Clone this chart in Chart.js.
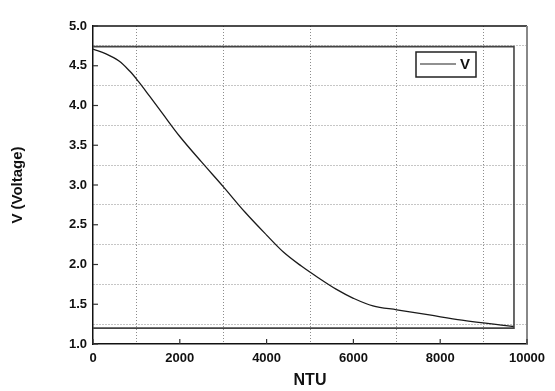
<!DOCTYPE html>
<html>
<head>
<meta charset="utf-8">
<script src="https://cdn.jsdelivr.net/npm/chart.js@4.4.1/dist/chart.umd.min.js"></script>
<style>
  html, body { margin: 0; padding: 0; background: #fff; }
  #wrap { width: 555px; height: 391px; }
</style>
</head>
<body>
<div id="wrap"><canvas id="chart"></canvas></div>
<script>
// Curve values
var ntu     = [0, 300, 600, 850, 1050, 1300, 1600, 2000, 2500, 3000, 3500, 4000, 4400, 4800, 5200, 5600, 6000, 6450, 7000, 7750, 8500, 9690];
var voltage = [4.71, 4.65, 4.56, 4.43, 4.30, 4.12, 3.90, 3.61, 3.29, 2.98, 2.66, 2.37, 2.15, 1.98, 1.83, 1.69, 1.575, 1.48, 1.43, 1.365, 1.30, 1.22];

// The open rectangle drawn round the curve
var frameX = [0, 9700, 9700, 0];
var frameY = [4.74, 4.74, 1.2, 1.2];

var FONT = "'Liberation Sans', Arial, sans-serif";

function toPoints(xs, ys) {
    return xs.map(function (x, i) { return { x: x, y: ys[i] }; });
}

// Draws top/right borders, inward tick marks and the boxed legend
var extras = {
    id: 'extras',
    afterDraw: function (chart) {
        var ctx = chart.ctx;
        var a = chart.chartArea;
        var xs = chart.scales.x, ys = chart.scales.y;
        ctx.save();

        // top and right border
        ctx.lineWidth = 1.5;
        ctx.strokeStyle = '#111';
        ctx.beginPath();
        ctx.moveTo(a.left, a.top);
        ctx.lineTo(a.right, a.top);
        ctx.stroke();
        ctx.lineWidth = 2;
        ctx.strokeStyle = '#888';
        ctx.beginPath();
        ctx.moveTo(a.right, a.top);
        ctx.lineTo(a.right, a.bottom);
        ctx.stroke();

        // inward major ticks
        ctx.lineWidth = 1.2;
        ctx.strokeStyle = '#333';
        xs.ticks.forEach(function (t) {
            if (t.value % 2000 !== 0) return;
            var px = xs.getPixelForValue(t.value);
            ctx.beginPath();
            ctx.moveTo(px, a.bottom);
            ctx.lineTo(px, a.bottom - 5);
            ctx.stroke();
        });
        ys.ticks.forEach(function (t) {
            if (Math.abs(t.value * 2 - Math.round(t.value * 2)) > 1e-6) return;
            var py = ys.getPixelForValue(t.value);
            ctx.beginPath();
            ctx.moveTo(a.left, py);
            ctx.lineTo(a.left + 5, py);
            ctx.stroke();
        });

        // legend box
        var bx = a.right - 111, by = a.top + 26, bw = 60, bh = 25;
        ctx.fillStyle = '#fff';
        ctx.fillRect(bx, by, bw, bh);
        ctx.lineWidth = 1.5;
        ctx.strokeStyle = '#222';
        ctx.strokeRect(bx, by, bw, bh);
        ctx.lineWidth = 1.2;
        ctx.beginPath();
        ctx.moveTo(bx + 4, by + 12);
        ctx.lineTo(bx + 40, by + 12);
        ctx.stroke();
        ctx.fillStyle = '#111';
        ctx.font = 'bold 15px ' + FONT;
        ctx.textBaseline = 'middle';
        ctx.fillText(chart.data.datasets[0].label, bx + 44, by + 12.5);
        ctx.restore();
    }
};

new Chart(document.getElementById('chart'), {
    type: 'line',
    data: {
        datasets: [
            {
                label: 'V',
                data: toPoints(ntu, voltage),
                borderColor: '#1a1a1a',
                borderWidth: 1.3,
                pointRadius: 0,
                tension: 0.35,
                fill: false
            },
            {
                label: 'frame',
                data: toPoints(frameX, frameY),
                borderColor: '#444',
                borderWidth: 1.6,
                pointRadius: 0,
                tension: 0,
                fill: false
            }
        ]
    },
    options: {
        responsive: true,
        maintainAspectRatio: false,
        animation: false,
        layout: { padding: { top: 26, right: 28, left: 0, bottom: 0 } },
        plugins: {
            legend: { display: false },
            tooltip: { enabled: false }
        },
        scales: {
            x: {
                type: 'linear',
                min: 0,
                max: 10000,
                afterFit: function (s) { s.height = 47; },
                ticks: {
                    stepSize: 1000,
                    autoSkip: false,
                    maxRotation: 0,
                    padding: 7,
                    color: '#111',
                    font: { family: FONT, size: 13, weight: 'bold' },
                    callback: function (v) { return v % 2000 === 0 ? String(v) : ''; }
                },
                grid: {
                    drawTicks: false,
                    lineWidth: 1,
                    color: function (c) {
                        return c.tick && c.tick.value % 2000 === 1000 ? '#8c8c8c' : 'rgba(0,0,0,0)';
                    }
                },
                border: { color: '#111', width: 1.5, dash: [1, 2] },
                title: {
                    display: true,
                    text: 'NTU',
                    color: '#111',
                    font: { family: FONT, size: 16, weight: 'bold' },
                    padding: { top: 0, bottom: 1 }
                }
            },
            y: {
                min: 1,
                max: 5,
                afterFit: function (s) { s.width = 93; },
                ticks: {
                    stepSize: 0.25,
                    autoSkip: false,
                    padding: 6,
                    color: '#111',
                    font: { family: FONT, size: 13, weight: 'bold' },
                    callback: function (v) {
                        return Math.abs(v * 2 - Math.round(v * 2)) < 1e-6 ? v.toFixed(1) : '';
                    }
                },
                grid: {
                    drawTicks: false,
                    lineWidth: 1,
                    color: function (c) {
                        if (!c.tick) return 'rgba(0,0,0,0)';
                        var half = Math.abs(c.tick.value * 2 - Math.round(c.tick.value * 2)) < 1e-6;
                        return half ? 'rgba(0,0,0,0)' : '#8c8c8c';
                    }
                },
                border: { color: '#111', width: 1.5, dash: [1, 2] },
                title: {
                    display: true,
                    text: 'V (Voltage)',
                    color: '#111',
                    font: { family: FONT, size: 15, weight: 'bold' },
                    padding: { top: 9, bottom: 0 }
                }
            }
        }
    },
    plugins: [extras]
});
</script>
</body>
</html>
